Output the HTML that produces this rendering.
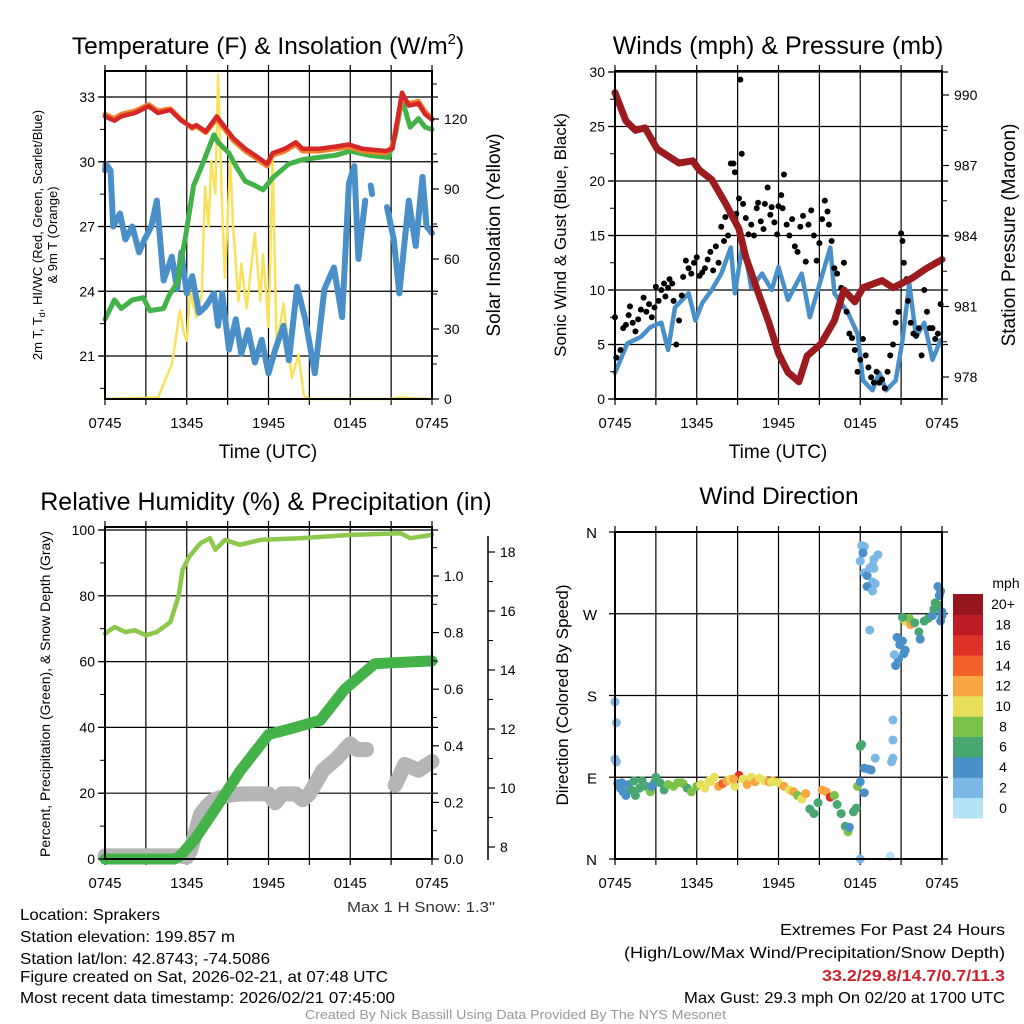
<!DOCTYPE html>
<html><head><meta charset="utf-8"><style>
body{margin:0;background:#fff;}
svg{display:block;font-family:"Liberation Sans",sans-serif;}
.tk{font-size:14px;fill:#000;}
</style></head><body>
<svg id="fig" width="1024" height="1024" viewBox="0 0 1024 1024" xmlns="http://www.w3.org/2000/svg">
<rect width="1024" height="1024" fill="#fff"/>
<g id="p1"></g>
<g id="p2"></g>
<g id="p3"></g>
<g id="p4"></g>
<text x="268" y="54" text-anchor="middle" font-size="24.5">Temperature (F) &amp; Insolation (W/m<tspan dy="-10" font-size="15">2</tspan><tspan dy="10">)</tspan></text>
<text x="778" y="54" text-anchor="middle" font-size="25">Winds (mph) &amp; Pressure (mb)</text>
<text x="266" y="510" text-anchor="middle" font-size="25">Relative Humidity (%) &amp; Precipitation (in)</text>
<text x="779" y="504" text-anchor="middle" font-size="24.5">Wind Direction</text>
<text x="268" y="458" text-anchor="middle" font-size="19">Time (UTC)</text>
<text x="778" y="458" text-anchor="middle" font-size="19">Time (UTC)</text>
<text transform="translate(42,235) rotate(-90)" text-anchor="middle" font-size="13"><tspan x="0" y="0">2m T, T<tspan font-size="9" dy="3">d</tspan><tspan dy="-3">, HI/WC (Red, Green, Scarlet/Blue)</tspan></tspan><tspan x="0" y="15">&amp; 9m T (Orange)</tspan></text>
<text transform="translate(500,235) rotate(-90)" text-anchor="middle" font-size="19">Solar Insolation (Yellow)</text>
<text transform="translate(566,235) rotate(-90)" text-anchor="middle" font-size="17">Sonic Wind &amp; Gust (Blue, Black)</text>
<text transform="translate(1015,235) rotate(-90)" text-anchor="middle" font-size="19">Station Pressure (Maroon)</text>
<text transform="translate(50,694) rotate(-90)" text-anchor="middle" font-size="14">Percent, Precipitation (Green), &amp; Snow Depth (Gray)</text>
<text transform="translate(568,695) rotate(-90)" text-anchor="middle" font-size="17">Direction (Colored By Speed)</text>
<text x="347" y="912" textLength="148" lengthAdjust="spacingAndGlyphs" font-size="15" fill="#333">Max 1 H Snow: 1.3"</text>
<g font-size="16">
<text x="20" y="920" textLength="140" lengthAdjust="spacingAndGlyphs">Location: Sprakers</text>
<text x="20" y="942" textLength="215" lengthAdjust="spacingAndGlyphs">Station elevation: 199.857 m</text>
<text x="20" y="964" textLength="250" lengthAdjust="spacingAndGlyphs">Station lat/lon: 42.8743; -74.5086</text>
<text x="20" y="982" textLength="368" lengthAdjust="spacingAndGlyphs">Figure created on Sat, 2026-02-21, at 07:48 UTC</text>
<text x="20" y="1003" textLength="375" lengthAdjust="spacingAndGlyphs">Most recent data timestamp: 2026/02/21 07:45:00</text>
</g>
<g font-size="16">
<text x="780" y="935" textLength="225" lengthAdjust="spacingAndGlyphs">Extremes For Past 24 Hours</text>
<text x="624" y="958" textLength="381" lengthAdjust="spacingAndGlyphs">(High/Low/Max Wind/Precipitation/Snow Depth)</text>
<text x="822" y="981" textLength="183" lengthAdjust="spacingAndGlyphs" fill="#d0202a" font-weight="bold">33.2/29.8/14.7/0.7/11.3</text>
<text x="684" y="1003" textLength="321" lengthAdjust="spacingAndGlyphs">Max Gust: 29.3 mph On 02/20 at 1700 UTC</text>
</g>
<text x="305" y="1019" textLength="421" lengthAdjust="spacingAndGlyphs" font-size="13" fill="#999">Created By Nick Bassill Using Data Provided By The NYS Mesonet</text>
</svg>
<script>
const NS="http://www.w3.org/2000/svg";
const xTickLabels=["0745","1345","1945","0145","0745"];
// Panel 1 data (t in hours since 0745)
const tempT=[0,0.7,1.2,2.2,3.2,3.9,4.8,5.6,6.4,6.7,7.4,8.2,8.8,9.4,10.3,11,11.9,12.3,13.2,14,14.5,15.7,16.9,17.9,18.9,20.6,21.1,21.8,22.3,23,23.5,24];
const tempV=[32.1,31.9,32.1,32.26,32.57,32.26,32.4,31.9,31.6,31.7,31.4,32.1,31.6,31.1,30.6,30.3,29.9,30.4,30.6,30.9,30.6,30.6,30.7,30.8,30.6,30.5,30.6,33.2,32.6,32.7,32.2,31.95];
const t9mV=[32.2,32.0,32.2,32.35,32.65,32.35,32.45,31.95,31.55,31.65,31.35,32.0,31.5,31.0,30.5,30.2,29.8,30.3,30.5,30.8,30.5,30.5,30.6,30.7,30.5,30.4,30.7,33.0,32.7,32.8,32.3,32.0];
const dewT=[0,0.7,1.2,2,2.8,3.3,4.3,4.7,5.3,5.9,6.5,7.1,8,8.3,9.1,9.6,10.3,11,11.6,12.3,13.5,14.5,15.7,16.9,18,19.4,20.8,21.3,21.8,22.4,23,23.5,24];
const dewV=[22.7,23.6,23.2,23.6,23.7,23.1,23.2,23.8,24.4,26.5,28.9,29.8,31.25,30.9,30.4,29.8,29.1,28.9,28.7,29.25,29.9,30.1,30.2,30.3,30.5,30.3,30.2,31.2,32.9,31.6,32.0,31.6,31.5];
const wcT=[0,0.05,0.4,0.6,1.1,1.5,2,2.5,2.9,3.4,3.8,4.3,4.9,5.3,5.6,6,6.4,6.9,7.4,8,8.3,8.6,9.1,9.6,10,10.5,11,11.5,12,12.5,13.1,13.5,14.1,14.7,15.4,16.1,16.8,17.4,17.9,18.3,18.6,19.1,null,19.5,19.6,null,20.7,21.2,21.6,22.3,22.8,23.3,23.6,24];
const wcV=[29.6,29.9,29.6,27,27.6,26.4,27,25.8,26.4,27,28.2,24.5,25.6,24.1,25.8,23.9,24.7,23,23.3,23.9,22.4,23.9,21.3,22.7,21.1,22.2,20.7,21.75,20.2,21.3,22.4,20.8,24.2,22.7,20.2,24.1,25.1,22.8,29,29.8,25.5,28.2,null,28.9,28.5,null,27.9,26.4,23.9,28.2,26.1,29.3,27,26.7];
const solT=[0,3.9,4.9,5.1,5.5,5.8,6,6.25,6.7,7.1,7.35,7.6,7.8,8.1,8.3,8.6,8.8,9.2,9.4,9.8,10,10.4,11,11.4,11.6,12,12.3,12.6,13.1,13.7,14.2,14.6,15,21,21.5,24];
const solV=[0,0.7,15,22,38,28,25,46,35,45,91,74,102,88,139,81,52,102,74,42,58,39,71,42,62,31,102,22,41,9,19,1.4,0,0,0.6,0];
// Panel 2 data
const windT=[0,0.4,0.9,1.9,2.6,3.4,3.9,4.4,5.4,5.9,6.4,7.1,7.8,8.5,8.8,9.4,10,10.8,11.5,12,12.7,13.7,14.3,15.1,15.8,16.1,17.1,17.8,18.2,18.9,19.4,19.9,20.6,21.1,21.6,22.1,22.7,23.3,23.9];
const windV=[2.4,3.6,5.1,5.7,6.6,7,4.5,8.4,9.7,7.2,8.8,10,11.5,13.9,9.7,14.5,10.2,11.5,10,12.1,9.1,11.5,7.5,10.9,13.9,9.7,7.9,6,1.7,0.8,2.4,0.8,1.7,5.4,10.6,5.7,7,3.6,5.4];
const gustT=[0,0.1,0.4,0.6,0.8,1.0,1.1,1.3,1.5,1.7,1.9,2.1,2.3,2.5,2.7,2.9,3.0,3.2,3.4,3.6,3.7,3.9,4.0,4.2,4.3,4.5,4.7,4.9,5.0,5.2,5.4,5.6,5.8,6.0,6.2,6.4,6.6,6.8,7.0,7.2,7.4,7.6,7.8,8.0,8.1,8.3,8.5,8.7,8.8,8.9,9.1,9.2,9.3,9.4,9.6,9.8,10.0,10.2,10.4,10.5,10.7,10.9,11.0,11.2,11.4,11.5,11.7,11.9,12.0,12.2,12.3,12.4,12.6,12.8,13.0,13.2,13.4,13.6,13.8,14.0,14.2,14.4,14.6,14.8,15.0,15.2,15.4,15.6,15.7,15.9,16.1,16.3,16.5,16.6,16.8,17.0,17.2,17.4,17.6,17.8,18.0,18.2,18.4,18.6,18.8,19.0,19.2,19.4,19.6,19.8,20.0,20.2,20.4,20.6,20.8,21.0,21.1,21.2,21.4,21.5,21.7,21.9,22.1,22.3,22.5,22.7,22.9,23.1,23.3,23.5,23.7,23.9];
const gustV=[7.5,3.8,4.5,6.5,6.8,7.7,8.5,7.0,6.2,7.3,8.2,9.3,8.0,8.7,7.5,8.4,10.3,9.0,10.0,10.6,9.4,10.2,11.0,10.6,9.0,5.0,7.2,9.5,11.2,12.7,12.0,11.5,12.5,13.0,11.3,11.6,12.0,12.8,13.5,11.8,14.0,12.5,15.8,14.5,16.7,15.0,21.6,21.6,20.8,17.0,18.4,29.3,22.5,17.9,16.6,15.1,16.0,15.0,17.5,18.0,16.3,15.6,17.9,19.4,16.9,17.6,16.2,15.1,17.7,18.7,17.5,20.6,16.0,15.0,16.5,14.0,13.5,15.8,16.8,12.6,16.0,17.3,15.0,12.7,14.3,16.5,18.2,17.2,16.0,14.5,12.0,11.5,8.5,10.2,12.5,8.0,6.0,5.6,4.5,2.5,3.6,5.5,4.0,2.9,2.0,1.5,2.5,1.5,1.8,1.0,2.5,4.0,5.0,7.0,8.0,15.2,14.5,12.5,11.0,9.0,7.0,6.0,5.8,6.5,4.0,10.0,8.0,6.5,6.5,5.5,6.0,8.7];
const presT=[0,0.8,1.5,2.2,3.1,4.7,5.7,6.2,7.1,8.1,9.1,9.6,10.5,11.3,12,12.7,13.5,14.1,15.1,16.1,16.8,17.6,18.2,19.6,20.4,21.8,22.8,24];
const presV=[990.1,988.9,988.5,988.6,987.7,987.1,987.2,986.8,986.4,985.4,984.3,983.1,981.6,980.3,979.0,978.2,977.8,978.9,979.4,980.4,981.7,981.2,981.8,982.1,981.8,982.2,982.6,983.0];
// Panel 3 data
const rhT=[0,0.7,1.5,2.2,3,3.8,4.8,5.4,5.7,6.2,7,7.7,8.1,8.8,9.9,11.4,14.3,18,21.7,22.4,24];
const rhV=[68.5,70.5,69,69.5,68,69,72,80,88,92,96,97.5,94,97,95.5,97,97.5,98.5,99,97.5,98.5];
const pcpT=[0,5.1,5.5,6.6,8,9.9,12,13.6,15.8,17.6,19.8,24];
const pcpV=[0,0,0.01,0.07,0.17,0.31,0.44,0.46,0.49,0.6,0.69,0.7];
const snowT=[0,5.5,6,6.3,6.7,7,7.5,8,9,10,11,12,12.5,13,14,14.5,15,15.5,16,17,18,18.5,19.2,null,21.3,22,23,24];
const snowV=[7.7,7.7,7.65,7.9,8.6,9.1,9.4,9.6,9.75,9.8,9.8,9.8,9.5,9.8,9.8,9.6,9.8,10.2,10.6,11.0,11.5,11.3,11.3,null,10.1,10.8,10.6,10.9];
// Panel 4 data
const dirT=[0,0.1,0,0.1,0.2,0.4,0.5,0.6,0.8,1,1.2,1.5,1.8,2,2.3,2.6,2.9,3,3.3,3.6,3.9,4.3,4.6,5,5.3,5.6,6,6.3,6.6,7,7.3,7.6,7.9,8.2,8.5,8.8,9.1,9.4,9.7,10,10.3,10.6,11,11.3,11.6,12,12.4,12.8,13.1,13.4,13.7,14,14.3,14.6,14.9,15.2,15.5,15.8,16.1,16.3,16.6,16.9,17.1,17.2,17.5,17.7,17.8,18,18.3,18.1,18.0,18.3,18.6,18.8,18.0,20.2,18.1,18.3,18.2,18.0,18.3,18.5,18.7,18.9,19.0,19.3,19.0,18.9,18.5,18.9,19.1,18.7,20.4,20.4,20.4,20.3,19.1,20.7,20.9,21.1,21.3,20.8,21.2,20.6,20.5,21.3,21.5,21.7,21.6,22.0,22.3,22.4,22.7,23.0,23.3,23.4,23.5,23.7,23.8,23.9,24,24,23.9,23.7,21.1,1.4,2.7,4.9,6.9,8.7,11.5];
const dirV=[173,150,110,107,83,78,84,74,70,82,76,70,78,86,80,74,84,90,84,76,82,80,84,83,78,74,80,82,78,85,90,80,83,86,88,80,92,88,82,90,85,89,86,85,86,84,80,76,74,70,66,72,55,50,62,76,74,68,70,60,50,36,30,35,52,56,80,85,100,126,124,73,99,98,0,3,345,344,337,328,315,312,320,323,330,335,320,305,300,295,303,252,153,131,111,107,111,244,236,240,230,220,226,213,225,262,264,258,265,260,250,242,262,265,268,275,282,280,290,295,268,272,262,300,266,86,80,84,86,88,85];
const dirS=[2,2,2,2,3,4,3,4,3,4,6,6,6,6,6,7,5,6,6,5,7,8,7,8,6,7,8,10,10,10,10,12,14,12,10,10,16,10,12,10,12,10,10,12,12,10,12,10,12,8,10,12,6,6,6,12,12,16,8,6,6,6,8,4,6,6,8,3,4,6,6,3,4,4,1,0,1,2,3,2,2,3,2,1,1,1,2,1,3,2,1,2,1,1,1,1,1,4,4,4,4,4,4,4,1,10,10,12,8,6,6,4,6,6,4,6,6,6,4,4,4,4,4,4,6,5,4,8,10,12,10];
const cbLabels=["0","2","4","6","8","10","12","14","16","18","20+"];
const cbColors=["#b6e2f6","#7bb8e4","#4a90c8","#48a771","#7cc24a","#e8e05a","#f7a641","#f0622a","#de3127","#bd1c24","#95161c"];

function mk(parent,tag,attrs){const e=document.createElementNS(NS,tag);for(const k in attrs)e.setAttribute(k,attrs[k]);parent.appendChild(e);return e;}
function lin(d0,d1,r0,r1){return v=>r0+(v-d0)*(r1-r0)/(d1-d0);}
function pathD(ts,vs,sx,sy){let d="",pen=false;for(let i=0;i<ts.length;i++){if(ts[i]===null||vs[i]===null){pen=false;continue;}d+=(pen?"L":"M")+sx(ts[i]).toFixed(1)+","+sy(vs[i]).toFixed(1);pen=true;}return d;}
function frame(g,x0,x1,y0,y1,sx,hgrid){
  for(let h=0;h<=24;h+=3){const x=sx(h);const l=mk(g,"line",{x1:x,x2:x,y1:y0-6,y2:y1+6,stroke:"#000","stroke-width":1.2});}
  hgrid.forEach(y=>{const l=mk(g,"line",{x1:x0-6,x2:x1+6,y1:y,y2:y,stroke:"#000","stroke-width":1.2});});
  xTickLabels.forEach((s,i)=>{const t=mk(g,"text",{x:sx(i*6)-16.5,y:y1+29,textLength:33,lengthAdjust:"spacingAndGlyphs","font-size":"15"});t.textContent=s;});
}
function border(g,x0,x1,y0,y1){const r=mk(g,"rect",{x:x0,y:y0,width:x1-x0,height:y1-y0,fill:"none",stroke:"#000","stroke-width":2});}
function yTicks(g,x,vals,sy,fmt,side,minor){
  vals.forEach(v=>{const y=sy(v);const t=mk(g,"text",{x:side<0?x-10:x+12,y:y+5,"text-anchor":side<0?"end":"start","class":"tk"});t.textContent=fmt(v);
    mk(g,"line",{x1:x,x2:x+side*7,y1:y,y2:y,stroke:"#000","stroke-width":1.2});});
  (minor||[]).forEach(v=>{const y=sy(v);mk(g,"line",{x1:x,x2:x+side*5,y1:y,y2:y,stroke:"#000","stroke-width":1});});
}
function line(g,ts,vs,sx,sy,color,w,name){const p=mk(g,"path",{d:pathD(ts,vs,sx,sy),fill:"none",stroke:color,"stroke-width":w,"stroke-linejoin":"round","stroke-linecap":"round"});return p;}

// Panel 1
(function(){const g=document.getElementById('p1');const X0=105,X1=432,Y0=71,Y1=399;
const sx=lin(0,24,X0,X1),sy=lin(33,21,97,356),ss=lin(0,120,399,119);
frame(g,X0,X1,Y0,Y1,sx,[33,30,27,24,21].map(sy));
line(g,solT,solV,sx,ss,"#f9e15a",2.5,"solar-insolation-line");
line(g,wcT,wcV,sx,sy,"#4a8fc8",6,"wind-chill-line");
line(g,dewT,dewV,sx,sy,"#43b249",5,"dewpoint-line");
line(g,tempT,t9mV,sx,sy,"#f47f2a",5,"temp-9m-line");
line(g,tempT,tempV,sx,sy,"#d62728",4.5,"temp-2m-line");
border(g,X0,X1,Y0,Y1);
yTicks(g,X0,[33,30,27,24,21],sy,v=>v,-1,[31.5,28.5,25.5,22.5,19.5]);
yTicks(g,X1,[0,30,60,90,120],ss,v=>v,1,[15,45,75,105,135]);
})();
// Panel 2
(function(){const g=document.getElementById('p2');const X0=615,X1=942,Y0=71,Y1=399;
const sx=lin(0,24,X0,X1),sy=lin(0,30,399,72),sp=lin(990,978,95,377);
frame(g,X0,X1,Y0,Y1,sx,[0,5,10,15,20,25,30].map(sy));
line(g,windT,windV,sx,sy,"#4a90c8",4.5,"sonic-wind-line");
gustT.forEach((t,i)=>{const c=mk(g,"circle",{cx:sx(t),cy:sy(gustV[i]),r:3,fill:"#000"});});
line(g,presT,presV,sx,sp,"#9b1b1e",7,"pressure-line");
border(g,X0,X1,Y0,Y1);
yTicks(g,X0,[0,5,10,15,20,25,30],sy,v=>v,-1,[2.5,7.5,12.5,17.5,22.5,27.5]);
yTicks(g,X1,[990,987,984,981,978],sp,v=>v,1,[988.5,985.5,982.5,979.5]);
})();
// Panel 3
(function(){const g=document.getElementById('p3');const X0=105,X1=432,Y0=527,Y1=859;
const sx=lin(0,24,X0,X1),sy=lin(0,100,859,530),sp=lin(0,1,859,576),sn=lin(8,18,847,552);
frame(g,X0,X1,Y0,Y1,sx,[0,20,40,60,80,100].map(sy));
line(g,snowT,snowV,sx,sn,"#b5b5b5",15,"snow-depth-line");
line(g,pcpT,pcpV,sx,sp,"#43b249",11,"precipitation-line");
line(g,rhT,rhV,sx,sy,"#8cc84b",4.5,"relative-humidity-line");
border(g,X0,X1,Y0,Y1);
yTicks(g,X0,[0,20,40,60,80,100],sy,v=>v,-1,[10,30,50,70,90]);
yTicks(g,X1,[0,0.2,0.4,0.6,0.8,1.0],sp,v=>v.toFixed(1),1,[0.1,0.3,0.5,0.7,0.9,1.1]);
mk(g,"line",{x1:488,x2:488,y1:536,y2:860,stroke:"#000","stroke-width":1.5});
yTicks(g,488,[8,10,12,14,16,18],sn,v=>v,1,[9,11,13,15,17]);
})();
// Panel 4
(function(){const g=document.getElementById('p4');const X0=615,X1=942,Y0=532,Y1=859;
const sx=lin(0,24,X0,X1),sy=lin(0,360,859,532);
frame(g,X0,X1,Y0,Y1,sx,[0,90,180,270,360].map(sy));
function col(s){return cbColors[Math.min(10,Math.max(0,Math.round(s/2)))];}
dirT.forEach((t,i)=>{const c=mk(g,"circle",{cx:sx(t),cy:sy(dirV[i]),r:4.5,fill:col(dirS[i])});});
border(g,X0,X1,Y0,Y1);
["N","E","S","W","N"].forEach((s,i)=>{const y=sy(i*90);const t=mk(g,"text",{x:X0-18,y:y+6,"text-anchor":"end","font-size":"15"});t.textContent=s;});
const cb=mk(g,"g",{});
const bh=(818-594)/11;
cbColors.forEach((c,i)=>{const y=818-(i+1)*bh;mk(cb,"rect",{x:953,y:y,width:30,height:bh+0.5,fill:c});
 const t=mk(cb,"text",{x:1003,y:y+bh/2+5,"text-anchor":"middle","font-size":"14"});t.textContent=cbLabels[i];});
const m=mk(cb,"text",{x:1006,y:588,"text-anchor":"middle","font-size":"14"});m.textContent="mph";
})();
</script>
</body></html>
